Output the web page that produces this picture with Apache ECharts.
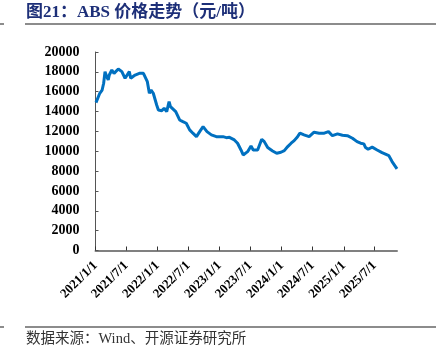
<!DOCTYPE html>
<html>
<head>
<meta charset="utf-8">
<script src="https://cdn.jsdelivr.net/npm/echarts@6/dist/echarts.min.js"></script>
<style>
html,body{margin:0;padding:0;background:#fff;}
#chart{width:444px;height:355px;}
</style>
</head>
<body>
<div id="chart"></div>
<script>
const dates = [
'2021/1/4','2021/1/10','2021/1/26','2021/2/9','2021/2/18','2021/2/26','2021/3/8','2021/3/17','2021/3/23','2021/4/7',
'2021/4/20','2021/5/15','2021/6/5','2021/6/24','2021/7/4','2021/7/19','2021/7/27','2021/8/8','2021/8/22','2021/9/16',
'2021/10/10','2021/10/19','2021/11/2','2021/11/14','2021/11/24','2021/12/7','2021/12/27','2022/1/6','2022/1/26','2022/2/9',
'2022/2/24','2022/3/10','2022/3/18','2022/3/29','2022/4/18','2022/5/11','2022/5/30','2022/6/19','2022/7/9','2022/7/28',
'2022/8/18','2022/9/6','2022/9/26','2022/10/5','2022/10/19','2022/11/14','2022/12/13','2023/1/21','2023/2/10','2023/2/28',
'2023/3/29','2023/4/17','2023/5/7','2023/5/20','2023/6/15','2023/7/5','2023/7/18','2023/8/13','2023/9/6','2023/9/21',
'2023/10/11','2023/11/9','2023/12/3','2023/12/28','2024/1/17','2024/2/6','2024/2/26','2024/3/15','2024/4/4','2024/4/18',
'2024/5/12','2024/6/11','2024/7/10','2024/8/9','2024/9/8','2024/10/3','2024/10/26','2024/11/25','2024/12/24','2025/1/22',
'2025/2/21','2025/3/20','2025/4/10','2025/4/29','2025/5/9','2025/5/24','2025/6/17','2025/7/16','2025/8/14','2025/9/23',
'2025/10/12','2025/11/1','2025/11/10'
];
const absPrice = [
14900,15100,15840,16170,16850,18020,17510,17180,17680,18190,
17850,18290,18020,17350,17180,18020,17350,17510,17680,17850,
17850,17680,17010,15840,16170,15840,14660,14160,14090,14330,
13990,15000,14490,14660,13990,13150,12980,12820,12150,11820,
11470,11980,12480,12550,11980,11650,11470,11470,11370,11400,
11140,10810,10130,9630,9960,10540,10130,10130,11210,10970,
10370,10030,9800,9900,10060,10470,10810,11070,11470,11820,
11650,11470,11920,11820,11820,11980,11570,11750,11610,11570,
11310,10970,10810,10740,10370,10200,10410,10130,9860,9560,
8960,8450,8220
];
const tickLabels = ['2021/1/1','2021/7/1','2022/1/1','2022/7/1','2023/1/1','2023/7/1','2024/1/1','2024/7/1','2025/1/1','2025/7/1'];

function toTs(s){ const p = s.split('/').map(Number); return Date.UTC(p[0], p[1]-1, p[2]); }
const tickTs = tickLabels.map(toTs);
const seriesData = dates.map((d,i)=>[toTs(d), absPrice[i]]);

const serif = '"Liberation Serif","Times New Roman","Noto Sans CJK SC",serif';
const chart = echarts.init(document.getElementById('chart'), null, {renderer:'canvas'});
chart.setOption({
  animation:false,
  backgroundColor:'#fff',
  title:{
    text:'图21：ABS 价格走势（元/吨）',
    left:26, top:4, padding:0,
    textStyle:{fontFamily:serif, fontSize:17, fontWeight:'bold', color:'#1d2f78'}
  },
  graphic:[
    {type:'line', shape:{x1:25,y1:24,x2:436,y2:24}, style:{stroke:'#666',lineWidth:1.5}},
    {type:'line', shape:{x1:0,y1:24,x2:4,y2:24}, style:{stroke:'#666',lineWidth:1.5}},
    {type:'line', shape:{x1:25,y1:327,x2:436,y2:327}, style:{stroke:'#666',lineWidth:1.5}},
    {type:'line', shape:{x1:0,y1:327,x2:4,y2:327}, style:{stroke:'#666',lineWidth:1.5}},
    {type:'text', left:26, top:332, style:{text:'数据来源：Wind、开源证券研究所', font:'14.5px '+serif, fill:'#333'}}
  ],
  grid:{left:95.5, right:47, top:52, bottom:104.5, containLabel:false},
  xAxis:{
    type:'value',
    min:toTs('2021/1/1'),
    max:seriesData[seriesData.length-1][0],
    splitLine:{show:false},
    axisLine:{lineStyle:{color:'#808080', width:2}},
    axisTick:{show:true, inside:true, length:4, customValues:tickTs, lineStyle:{color:'#333', width:1}},
    axisLabel:{
      customValues:tickTs,
      rotate:45, margin:13,
      fontFamily:serif, fontSize:13, fontWeight:'bold', color:'#000',
      formatter:function(v){ const i = tickTs.indexOf(v); return i>=0 ? tickLabels[i] : ''; }
    }
  },
  yAxis:{
    type:'value', min:0, max:20000, interval:2000,
    splitLine:{show:false},
    axisLine:{show:true, lineStyle:{color:'#555', width:1}},
    axisTick:{show:true, inside:true, length:3, lineStyle:{color:'#555'}},
    axisLabel:{margin:16, fontFamily:serif, fontSize:14, fontWeight:'bold', color:'#000',
      formatter:function(v){ return String(v); }}
  },
  series:[{
    type:'line', data:seriesData, showSymbol:false, symbol:'none',
    lineStyle:{color:'#0070C0', width:3}
  }]
});
</script>
</body>
</html>
